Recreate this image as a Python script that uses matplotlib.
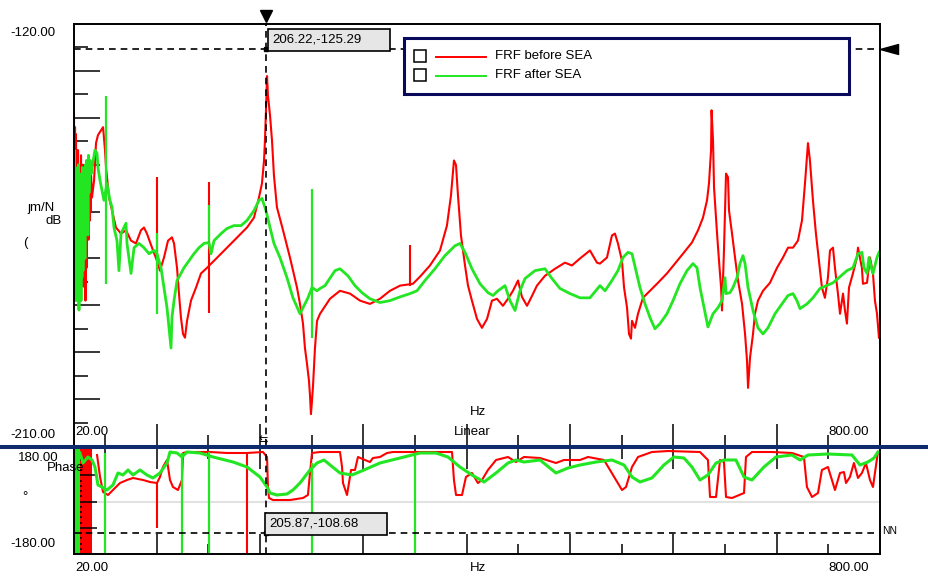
#!/usr/bin/env python3
import matplotlib
matplotlib.use("Agg")
import matplotlib.pyplot as plt
import matplotlib.transforms as mtransforms
from matplotlib.lines import Line2D
from matplotlib.patches import Rectangle
import numpy as np

plt.rcParams["font.family"] = ["Liberation Sans", "DejaVu Sans"]
plt.rcParams["font.size"] = 9.5

W, H = 929, 578
RED = "#ff0000"
GREEN = "#22e622"
NAVY = "#0f2b6b"

# axis ranges and cursor readouts
freq_lim = (20.0, 800.0)
mag_lim = (-210.0, -120.0)
phase_lim = (-180.0, 180.0)
cursor_mag = (206.22, -125.29)
cursor_phase = (205.87, -108.68)
series_names = ["FRF before SEA", "FRF after SEA"]

# magnitude, FRF before SEA (Hz, dB)
red_mag_f = [20.0, 20.5, 21.0, 21.5, 21.9, 22.4, 22.9, 23.4, 23.9, 24.4,
             24.8, 25.3, 25.8, 26.3, 26.8, 27.2, 27.7, 28.2, 28.7, 29.2,
             29.7, 30.1, 30.6, 31.1, 31.6, 32.1, 32.6, 33.0, 33.5, 34.0,
             34.5, 35.0, 35.5, 36.0, 36.5, 37.4, 39.4,
             41.3, 43.2, 46.1, 48.1, 50.0, 51.0, 53.9, 56.8, 60.6, 65.5,
             70.3, 75.2, 80.0, 84.8, 87.7, 90.6, 95.5, 100.3, 103.2, 107.1,
             111.0, 114.8, 116.8, 119.7, 121.6, 123.5, 125.5, 127.4, 129.4, 133.2,
             138.1, 142.9, 148.7, 155.5, 162.3, 168.1, 174.8, 181.6, 187.4, 194.2,
             199.0, 201.9, 203.9, 204.8, 205.8, 206.8, 207.7, 209.7, 211.6, 213.5,
             216.4, 222.3, 229.0, 235.8, 238.7, 241.6, 243.5, 245.5, 247.4, 248.4,
             249.3, 250.3, 251.3, 253.2, 255.2, 258.1,
             267.7, 277.4, 287.1, 296.8, 306.4, 316.1, 325.8, 335.5, 348.0, 354.8,
             364.5, 374.2, 380.9, 384.8, 387.7, 389.7, 391.6, 394.5, 398.4, 401.3,
             405.1, 410.0, 414.8, 419.7, 424.5, 429.3, 435.1, 440.0, 444.8, 449.7,
             453.5, 458.4, 463.2, 468.0, 475.8, 485.5, 495.1, 501.9, 509.7, 519.3,
             526.1, 529.0, 535.8, 540.6, 543.5, 546.4, 550.3, 552.3, 555.2, 557.1,
             559.0, 560.0, 562.9, 565.8, 570.6, 577.4, 585.1, 593.8, 601.6, 609.3,
             618.0, 623.9, 628.7, 632.6, 634.5, 636.5, 637.0, 638.4, 639.4, 642.3,
             644.2, 646.2, 647.1, 649.0, 651.0, 652.9, 653.9, 656.8, 659.7, 662.6,
             666.5, 669.4, 671.3, 672.3, 674.2, 677.1, 679.0, 681.9, 686.8, 693.5,
             700.3, 706.1, 711.0, 715.8, 720.6, 724.5, 727.4, 730.3, 732.2, 735.1,
             738.0, 740.9, 743.8, 746.7, 749.6, 751.6, 754.5, 756.4, 759.3, 761.3,
             764.2, 766.1, 768.0, 770.0, 773.8, 777.7, 778.7, 782.5, 783.5, 787.4,
             790.3, 793.2, 795.1, 797.1, 799.0]
red_mag_db = [-138.8, -165.0, -142.0, -172.0, -143.5, -160.0, -147.0, -176.0, -146.9, -168.0,
              -150.0, -178.0, -151.2, -170.0, -148.0, -174.7, -155.5, -166.2, -150.0, -176.0,
              -152.3, -168.0, -160.0, -179.0, -157.6, -172.0, -153.0, -164.0, -151.2, -166.0,
              -155.0, -162.0, -154.4, -160.0, -152.3, -157.0, -153.4,
              -145.4, -143.7, -142.7, -142.0, -146.9, -150.6, -157.0, -159.8, -163.4, -164.7,
              -164.0, -166.2, -166.8, -164.0, -163.4, -164.7, -167.7, -170.5, -172.6, -169.8,
              -166.2, -165.5, -166.8, -172.0, -177.5, -182.6, -186.1, -186.9, -183.3, -179.0,
              -176.2, -173.2, -172.0, -170.5, -169.0, -167.7, -166.2, -164.7, -163.4, -161.3,
              -157.0, -154.0, -149.1, -144.8, -138.4, -131.1, -135.2, -139.5, -144.8, -152.3,
              -159.1, -164.0, -169.8, -176.2, -179.7, -183.9, -189.1, -192.5, -196.1, -199.3,
              -203.2, -200.4, -197.2, -189.1, -183.3, -181.8,
              -178.6, -176.9, -177.5, -179.0, -179.7, -178.6, -176.9, -175.8, -175.4, -173.9,
              -171.5, -168.3, -163.0, -156.6, -149.1, -150.1, -156.6, -165.1, -171.5, -175.8,
              -179.0, -182.9, -184.8, -182.9, -179.0, -178.6, -180.1, -178.6, -176.9, -174.7,
              -178.2, -180.1, -178.0, -175.8, -173.7, -172.2, -170.9, -171.5, -170.0, -168.3,
              -170.9, -171.1, -169.8, -165.1, -164.7, -166.8, -170.5, -176.2, -180.5, -186.1,
              -187.1, -183.3, -184.8, -181.8, -178.4, -176.9, -175.2, -173.2, -171.1, -169.0,
              -166.6, -164.0, -161.3, -157.6, -154.0, -146.9, -138.4, -144.8, -154.9, -164.7,
              -170.5, -176.2, -181.1, -168.3, -151.9, -152.7, -159.8, -164.7, -169.8, -174.7,
              -179.7, -186.1, -191.8, -197.6, -191.2, -186.1, -181.8, -179.0, -176.9, -175.2,
              -172.0, -169.8, -167.7, -167.7, -166.2, -161.9, -154.0, -145.4, -149.1, -157.6,
              -164.7, -170.5, -176.2, -178.4, -174.1, -168.3, -167.7, -172.0, -177.5, -181.8,
              -177.5, -181.1, -183.9, -176.2, -173.2, -169.8, -167.7, -172.0, -175.4, -175.2,
              -169.8, -173.2, -179.0, -181.8, -186.9]

# magnitude, FRF after SEA (Hz, dB)
green_mag_f = [20.0, 20.5, 21.0, 21.5, 21.9, 22.4, 22.9, 23.4, 23.9, 24.4,
               24.8, 25.3, 25.8, 26.3, 26.8, 27.2, 27.7, 28.2, 28.7, 29.2,
               29.7, 30.1, 30.6, 31.1, 31.6, 32.1, 32.6, 33.0, 33.5, 34.0,
               34.5, 35.5, 36.5, 37.4, 40.3, 42.3,
               43.2, 45.2, 47.1, 49.0, 51.9, 54.8, 56.8, 58.7, 61.6, 63.5,
               65.5, 68.4, 70.3, 71.3, 75.2, 78.1, 82.9, 87.7, 92.6, 97.4,
               100.3, 104.2, 107.1, 110.0, 111.9, 113.9, 114.8, 116.8, 119.7, 123.5,
               126.4, 131.3, 136.1, 141.0, 145.8, 150.6, 152.6, 155.5, 162.3, 168.1,
               174.8, 181.6, 187.4, 194.2, 199.0, 201.9, 205.8, 208.7, 213.5, 219.3,
               226.1, 231.9, 238.7, 241.6, 246.4, 250.3, 255.2, 258.1, 262.9, 272.6,
               277.4, 285.1, 291.9, 298.7, 306.4, 316.1, 325.8, 335.5, 345.2, 351.9,
               359.7, 369.3, 379.0, 388.7, 393.5, 398.4, 405.1, 412.9, 420.6, 425.5,
               430.3, 437.1, 441.9, 446.8, 451.6, 456.4, 466.1, 475.8, 482.6, 490.3,
               500.0, 509.7, 519.3, 529.0, 533.9, 540.6, 546.4, 551.3, 556.1, 560.0,
               563.9, 567.7, 572.6, 577.4, 582.2, 587.1, 593.8, 599.7, 606.4, 613.2,
               619.0, 622.9, 625.8, 629.7, 633.5, 638.4, 643.2, 647.1, 650.0, 651.0,
               654.8, 657.7, 661.6, 664.5, 667.4, 669.4, 672.3, 677.1, 681.9, 686.8,
               691.6, 698.4, 705.1, 711.0, 715.8, 719.6, 722.6, 729.3, 735.1, 741.9,
               754.5, 768.0, 773.8, 778.7, 782.5, 784.5, 787.4, 789.3, 792.3, 793.2,
               797.1, 799.0]
green_mag_db = [-157.6, -147.0, -170.0, -150.6, -179.0, -152.0, -175.0, -154.0, -168.3, -150.0,
                -181.0, -155.0, -170.5, -152.0, -179.0, -157.6, -174.0, -150.6, -172.6, -155.5,
                -164.0, -152.3, -170.0, -150.0, -160.0, -149.1, -158.0, -150.6, -165.0, -148.0,
                -156.0, -149.1, -152.0, -150.6, -146.9, -147.6,
                -150.6, -153.4, -155.5, -157.6, -154.0, -157.6, -159.1, -163.4, -166.2, -172.6,
                -164.7, -163.4, -162.5, -166.8, -173.2, -167.7, -166.8, -167.7, -169.0, -168.3,
                -169.0, -172.0, -176.2, -180.5, -184.8, -189.1, -182.6, -179.0, -174.7, -173.2,
                -172.0, -170.5, -169.0, -167.7, -166.8, -166.6, -169.0, -166.2, -164.7, -163.6,
                -163.0, -163.0, -161.9, -159.8, -157.6, -157.2, -159.8, -162.5, -166.8, -169.8,
                -174.1, -178.4, -181.8, -180.5, -178.4, -176.2, -176.9, -176.4, -175.8, -172.6,
                -172.2, -173.7, -175.8, -177.3, -178.6, -179.4, -179.0, -178.2, -177.5, -176.9,
                -174.7, -172.2, -169.4, -167.3, -166.8, -168.7, -172.2, -175.4, -177.3, -177.9,
                -176.9, -175.8, -179.0, -181.1, -176.9, -174.3, -172.6, -172.2, -174.3, -176.4,
                -177.5, -178.4, -178.4, -175.8, -176.9, -174.7, -172.6, -169.8, -168.7, -169.0,
                -172.6, -176.2, -179.7, -182.6, -185.0, -183.9, -181.8, -179.0, -175.4, -172.6,
                -171.1, -172.0, -176.2, -180.5, -184.6, -181.8, -180.5, -179.0, -174.1, -177.5,
                -177.3, -176.2, -174.1, -171.1, -169.4, -171.1, -176.2, -181.1, -184.8, -186.1,
                -184.8, -181.8, -179.7, -177.9, -177.5, -179.0, -180.7, -179.7, -178.4, -176.4,
                -175.2, -172.6, -172.0, -169.0, -168.7, -172.0, -173.2, -169.8, -172.6, -173.2,
                -169.8, -168.7]

# mains-harmonic spikes in the magnitude (Hz, low dB, high dB)
red_mag_spike_f = [100.3, 150.6, 345.2]
red_mag_spike_lo = [-170.5, -181.6, -175.8]
red_mag_spike_hi = [-152.7, -153.8, -167.2]
green_mag_spike_f = [51.0, 100.3, 150.6, 250.3]
green_mag_spike_lo = [-175.4, -181.8, -166.2, -186.9]
green_mag_spike_hi = [-135.4, -164.5, -158.7, -155.1]

# phase, FRF before SEA (Hz, deg)
red_ph_f = [42.3, 45.2, 48.1, 52.9, 57.7, 64.5, 71.3, 77.1, 86.8, 93.5,
            100.3, 103.2, 106.1, 110.0, 112.9, 115.8, 120.6, 124.5, 125.5, 129.4,
            141.9, 151.6, 168.1, 187.4, 202.9, 206.8, 207.7, 208.7, 212.6, 229.0,
            241.6, 246.4, 248.4, 250.3, 258.1, 277.4, 279.4, 280.3, 284.2, 286.1,
            288.1, 291.9, 294.8, 301.6, 306.4, 309.3, 316.1, 322.9, 328.7, 342.2,
            354.8, 385.8, 387.7, 389.7, 395.5, 399.3, 405.1, 410.9, 414.8, 420.6,
            428.4, 440.0, 447.7, 455.5, 471.0, 486.4, 494.2, 509.7, 517.4, 532.9,
            538.7, 544.5, 550.3, 554.2, 560.0, 565.8, 579.3, 594.8, 625.8, 633.5,
            635.5, 641.3, 645.2, 649.0, 651.0, 656.8, 668.4, 670.3, 676.1, 695.5,
            714.8, 726.4, 729.3, 734.2, 740.0, 743.8, 749.6, 753.5, 756.4, 761.3,
            765.1, 767.1, 770.9, 774.8, 778.7, 782.5, 786.4, 790.3, 793.2, 795.1,
            798.0]
red_ph_deg = [159.4, 84.0, 32.6, 22.3, 39.4, 63.4, 73.7, 80.6, 73.7, 66.9,
              63.4, 84.0, 118.3, 142.3, 73.7, 49.7, 39.4, 73.7, 166.3, 169.7,
              169.7, 169.7, 166.3, 166.3, 169.7, 152.6, 49.7, 12.0, 5.1, 5.1,
              12.0, 22.3, 97.7, 166.3, 169.7, 169.7, 118.3, 63.4, 22.3, 63.4,
              108.0, 108.0, 152.6, 142.3, 135.4, 149.1, 152.6, 166.3, 169.7, 169.7,
              169.7, 169.7, 73.7, 22.3, 22.3, 84.0, 97.7, 63.4, 73.7, 108.0,
              142.3, 152.6, 135.4, 152.6, 149.1, 132.0, 142.3, 142.3, 152.6, 142.3,
              108.0, 73.7, 39.4, 49.7, 118.3, 152.6, 169.7, 173.1, 169.7, 142.3,
              15.4, 15.4, 142.3, 135.4, 15.4, 12.0, 29.1, 152.6, 169.7, 169.7,
              166.3, 152.6, 49.7, 15.4, 29.1, 108.0, 118.3, 73.7, 39.4, 97.7,
              101.1, 63.4, 84.0, 132.0, 80.6, 97.7, 132.0, 73.7, 49.7, 97.7,
              169.7]

# phase, FRF after SEA (Hz, deg)
green_ph_f = [25.8, 28.7, 33.5, 37.4, 40.3, 43.2, 47.1, 51.9, 57.7, 62.6,
              67.4, 72.3, 77.1, 83.9, 90.6, 96.4, 103.2, 110.0, 112.9, 119.7,
              124.5, 129.4, 141.9, 154.5, 173.9, 187.4, 200.0, 206.8, 209.7, 216.4,
              226.1, 231.9, 238.7, 248.4, 255.2, 261.9, 277.4, 289.0, 300.6, 316.1,
              335.5, 354.8, 370.3, 381.9, 393.5, 405.1, 416.8, 428.4, 440.0, 447.7,
              455.5, 471.0, 486.4, 498.1, 509.7, 525.2, 540.6, 552.3, 560.0, 567.7,
              579.3, 590.9, 600.6, 610.3, 618.0, 625.8, 633.5, 641.3, 649.0, 660.6,
              668.4, 676.1, 687.7, 699.3, 714.8, 722.6, 730.3, 749.6, 772.9, 780.6,
              788.3, 794.2, 798.0]
green_ph_deg = [166.3, 132.0, 152.6, 142.3, 118.3, 56.6, 49.7, 39.4, 56.6, 97.7,
                90.9, 108.0, 90.9, 108.0, 90.9, 80.6, 97.7, 132.0, 169.7, 166.3,
                152.6, 169.7, 166.3, 152.6, 135.4, 118.3, 84.0, 49.7, 29.1, 22.3,
                25.7, 39.4, 63.4, 108.0, 132.0, 142.3, 97.7, 90.9, 108.0, 132.0,
                149.1, 166.3, 166.3, 152.6, 118.3, 90.9, 66.9, 97.7, 132.0, 142.3,
                135.4, 142.3, 97.7, 114.9, 125.1, 135.4, 142.3, 125.1, 84.0, 66.9,
                80.6, 125.1, 152.6, 149.1, 118.3, 73.7, 90.9, 132.0, 142.3, 142.3,
                84.0, 73.7, 118.3, 152.6, 159.4, 142.3, 159.4, 162.9, 159.4, 125.1,
                135.4, 149.1, 169.7]

# spikes in the phase (Hz, low deg, high deg)
red_ph_spike_f = [100.3, 187.4]
red_ph_spike_lo = [-91.0, -180.0]
red_ph_spike_hi = [63.4, 169.7]
green_ph_spike_f = [50.0, 124.5, 150.6, 250.3, 350.0]
green_ph_spike_lo = [-177.0, -177.0, -177.0, -180.0, -180.0]
green_ph_spike_hi = [166.3, 166.3, 169.7, 132.0, 166.3]

# low frequency band where the phase wraps all over (Hz)
red_ph_noise = (20.0, 37.4)
green_ph_noise = (20.0, 25.8)


def fx(x):
    return x / W


def fy(y):
    return 1.0 - y / H


def ftext(fig, x, y, s, **kw):
    kw.setdefault("va", "center")
    kw.setdefault("ha", "left")
    fig.text(fx(x), fy(y), s, **kw)


def draw_cursor_box(fig, x0, y0, x1, y1, label):
    fig.add_artist(Rectangle((fx(x0), fy(y1)), (x1 - x0) / W, (y1 - y0) / H,
                             transform=fig.transFigure, facecolor="#e6e6e6",
                             edgecolor="black", lw=1.2, zorder=5))
    ftext(fig, x0 + 4, (y0 + y1) / 2, label, zorder=6)


def main():
    fig = plt.figure(figsize=(W / 100, H / 100), dpi=100)
    ax1 = fig.add_axes([fx(74), fy(446), (880 - 74) / W, (446 - 24) / H])
    ax2 = fig.add_axes([fx(74), fy(554), (880 - 74) / W, (554 - 449) / H])
    dash = (0, (4, 3))

    # ---- magnitude ----
    ax1.plot(red_mag_f, red_mag_db, color=RED, lw=1.5, zorder=2)
    ax1.vlines(red_mag_spike_f, red_mag_spike_lo, red_mag_spike_hi, color=RED, lw=1.5, zorder=2)
    ax1.plot(green_mag_f, green_mag_db, color=GREEN, lw=2.0, zorder=2.1)
    ax1.vlines(green_mag_spike_f, green_mag_spike_lo, green_mag_spike_hi, color=GREEN, lw=1.6, zorder=2.1)
    ax1.set_xlim(freq_lim)
    ax1.set_ylim(mag_lim)
    ax1.set_yticks(np.arange(-200, -129, 10))
    ax1.set_yticks(np.arange(-205, -124, 10), minor=True)
    ax1.set_xticks(np.arange(100, 701, 100))
    ax1.set_xticks(np.arange(50, 751, 100), minor=True)
    ax1.tick_params(axis="y", which="major", direction="in", length=18.7, width=1.1, labelleft=False)
    ax1.tick_params(axis="y", which="minor", direction="in", length=10.1, width=1.1)
    ax1.tick_params(axis="x", which="major", direction="in", length=15.8, width=1.1, labelbottom=False)
    ax1.tick_params(axis="x", which="minor", direction="in", length=7.9, width=1.1)
    ax1.spines["bottom"].set_visible(False)
    for s in ("left", "top", "right"):
        ax1.spines[s].set_linewidth(1.4)

    ax1.axvline(cursor_mag[0], color="black", ls=dash, lw=1.2, zorder=3)
    ax1.axhline(cursor_mag[1], color="black", ls=dash, lw=1.2, zorder=3)
    ax1.plot([cursor_mag[0]], [cursor_mag[1]], "s", color="black", ms=3, zorder=4)
    top = mtransforms.blended_transform_factory(ax1.transData, ax1.transAxes)
    ax1.plot([cursor_mag[0]], [1 + 8 / 422], marker="v", ms=9, color="black",
             transform=top, clip_on=False)
    side = mtransforms.blended_transform_factory(ax1.transAxes, ax1.transData)
    ax1.plot([1 + 9 / 806], [cursor_mag[1]], marker=[(-1, 0), (1, 0.55), (1, -0.55), (-1, 0)],
             ms=13, color="black", transform=side, clip_on=False)

    # ---- phase ----
    ax2.fill_betweenx(phase_lim, *red_ph_noise, color=RED, lw=0, zorder=1.5)
    ax2.fill_betweenx(phase_lim, *green_ph_noise, color=GREEN, lw=0, zorder=1.6)
    ax2.axhline(0, color="#e2e2e2", lw=1.5, zorder=1)
    ax2.plot(red_ph_f, red_ph_deg, color=RED, lw=1.5, zorder=2)
    ax2.vlines(red_ph_spike_f, red_ph_spike_lo, red_ph_spike_hi, color=RED, lw=1.5, zorder=2)
    ax2.plot(green_ph_f, green_ph_deg, color=GREEN, lw=2.2, zorder=2.1)
    ax2.vlines(green_ph_spike_f, green_ph_spike_lo, green_ph_spike_hi, color=GREEN, lw=1.6, zorder=2.1)
    ax2.set_xlim(freq_lim)
    ax2.set_ylim(phase_lim)
    ax2.set_yticks([-90, 0, 90])
    ax2.set_yticks(np.arange(-162, 180, 18), minor=True)
    ax2.set_xticks(np.arange(100, 701, 100))
    ax2.set_xticks(np.arange(50, 751, 100), minor=True)
    ax2.tick_params(axis="y", which="major", direction="in", length=16.6, width=1.1, labelleft=False)
    ax2.tick_params(axis="y", which="minor", direction="in", length=5.8, width=1.1)
    ax2.tick_params(axis="x", which="major", direction="in", length=14.4, width=1.1,
                    top=True, labelbottom=False)
    ax2.tick_params(axis="x", which="minor", direction="in", length=7.2, width=1.1, top=True)
    ax2.spines["top"].set_visible(False)
    for s in ("left", "bottom", "right"):
        ax2.spines[s].set_linewidth(1.4)

    ax2.axvline(cursor_phase[0], color="black", ls=dash, lw=1.2, zorder=3)
    ax2.axhline(cursor_phase[1], color="black", ls=dash, lw=1.2, zorder=3)
    ax2.plot([cursor_phase[0]], [cursor_phase[1]], "s", color="black", ms=3, zorder=4)

    # separator between the two panes
    fig.add_artist(Line2D([0, 1], [fy(447)] * 2, color=NAVY, lw=2.9,
                          transform=fig.transFigure, zorder=4))

    # cursor readouts
    draw_cursor_box(fig, 268, 29, 390, 51, f"{cursor_mag[0]:.2f},{cursor_mag[1]:.2f}")
    draw_cursor_box(fig, 265, 513, 387, 535, f"{cursor_phase[0]:.2f},{cursor_phase[1]:.2f}")
    ftext(fig, 259, 440, "\u21c6", fontsize=8)
    ftext(fig, 882, 531, "NN", fontsize=7.5)

    # legend
    fig.add_artist(Rectangle((fx(404), fy(94)), (849 - 404) / W, (94 - 38) / H,
                             transform=fig.transFigure, facecolor="white",
                             edgecolor="#0a0a5c", lw=2.2, zorder=5))
    for name, color, y in zip(series_names, [RED, GREEN], [56, 75]):
        fig.add_artist(Rectangle((fx(414), fy(y + 6)), 12 / W, 12 / H,
                                 transform=fig.transFigure, facecolor="white",
                                 edgecolor="black", lw=1.1, zorder=6))
        fig.add_artist(Line2D([fx(436), fx(486)], [fy(y + 1)] * 2, color=color, lw=1.4,
                              transform=fig.transFigure, zorder=6))
        ftext(fig, 495, y, name, zorder=6)

    # axis labels
    ftext(fig, 10, 33, "-120.00")
    ftext(fig, 10, 435, "-210.00")
    ftext(fig, 18, 458, "180.00")
    ftext(fig, 10, 544, "-180.00")
    ftext(fig, 47, 468, "Phase")
    ftext(fig, 22, 497, "°")
    ftext(fig, 27, 208, "\u0237m/N")
    ftext(fig, 46, 221, "dB")
    ftext(fig, 23, 243, "(")
    ftext(fig, 75, 432, "20.00")
    ftext(fig, 828, 432, "800.00")
    ftext(fig, 470, 412, "Hz")
    ftext(fig, 454, 432, "Linear")
    ftext(fig, 75, 568, "20.00")
    ftext(fig, 828, 568, "800.00")
    ftext(fig, 470, 568, "Hz")

    fig.savefig("out.png", dpi=100)


if __name__ == "__main__":
    main()
